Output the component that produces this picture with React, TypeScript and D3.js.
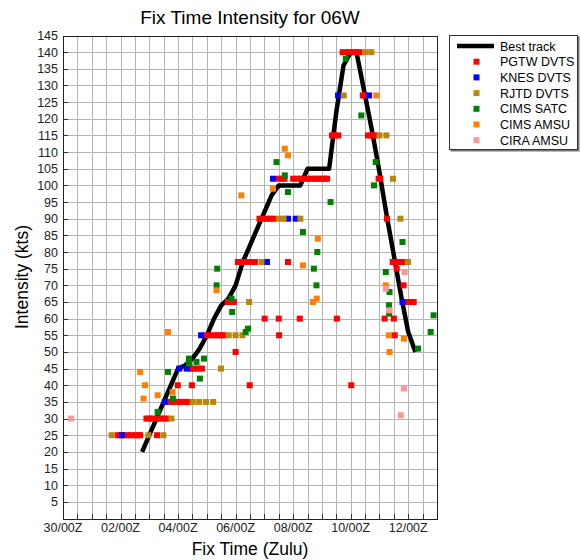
import { useEffect, useRef } from 'react';
import * as d3 from 'd3';

// time is in days after 30/00Z
const xTickDays = [0, 2, 4, 6, 8, 10, 12];
const xTickLabels = ['30/00Z', '02/00Z', '04/00Z', '06/00Z', '08/00Z', '10/00Z', '12/00Z'];
const yTicks = [5, 10, 15, 20, 25, 30, 35, 40, 45, 50, 55, 60, 65, 70, 75, 80, 85, 90, 95, 100, 105, 110, 115, 120, 125, 130, 135, 140, 145];

const trackDay = [2.75, 3, 3.25, 3.5, 3.75, 4, 4.25, 4.5, 4.75, 5, 5.25, 5.5, 5.75, 6, 6.25, 6.5, 6.75, 7, 7.25, 7.5, 7.75, 8, 8.25, 8.5, 8.75, 9, 9.25, 9.5, 9.75, 10, 10.2, 10.5, 10.75, 11, 11.25, 11.5, 11.75, 12, 12.25];
const trackKts = [20, 25, 30, 35, 40, 45, 46, 48, 51, 55, 60, 64, 66, 70, 77, 82, 87, 92, 97, 100, 100, 100, 100, 105, 105, 105, 105, 122, 136, 140, 140, 127, 116, 104, 91, 79, 67, 56, 50];

const pgtw: [number, number][] = [
  [1.9, 25], [2.0, 25], [2.125, 25], [2.25, 25], [2.375, 25], [2.5, 25], [2.625, 25], [2.68, 25], [3.27, 25],
  [2.9, 30], [3.0, 30], [3.125, 30], [3.25, 30], [3.375, 30], [3.5, 30], [3.6, 30],
  [3.72, 35], [3.85, 35], [4.0, 35], [4.125, 35], [4.25, 35], [4.31, 35],
  [3.99, 40], [4.48, 40], [6.49, 40], [10.02, 40],
  [4.44, 45], [4.55, 45], [4.7, 45], [4.83, 45],
  [6.0, 50],
  [4.97, 55], [5.1, 55], [5.25, 55], [5.375, 55], [5.5, 55], [5.59, 55], [7.51, 55], [11.53, 55],
  [7.01, 60], [7.5, 60], [8.23, 60], [9.52, 60], [11.18, 60], [11.5, 60],
  [5.73, 65], [5.85, 65], [5.94, 65], [11.98, 65], [12.1, 65], [12.19, 65],
  [11.84, 70], [11.6, 75],
  [6.08, 77], [6.2, 77], [6.33, 77], [6.45, 77], [6.58, 77], [6.67, 77], [7.82, 77],
  [11.46, 77], [11.6, 77], [11.72, 77], [11.83, 77],
  [6.83, 90], [6.95, 90], [7.08, 90], [7.2, 90], [7.33, 90], [11.26, 90],
  [7.5, 102], [7.6, 102], [7.7, 102], [8.0, 102], [8.125, 102], [8.25, 102], [8.375, 102], [8.5, 102],
  [8.625, 102], [8.75, 102], [8.875, 102], [9.0, 102], [9.125, 102], [9.18, 102], [10.97, 102], [11.03, 102],
  [9.35, 115], [9.46, 115], [9.57, 115], [10.6, 115], [10.72, 115], [10.84, 115],
  [10.42, 127], [10.5, 127],
  [9.72, 140], [9.85, 140], [9.97, 140], [10.1, 140], [10.22, 140], [10.31, 140],
];

const knes: [number, number][] = [
  [2.05, 25], [3.54, 35], [4.04, 45], [4.3, 45], [4.8, 55], [7.09, 77], [7.82, 90], [8.09, 90],
  [7.3, 102], [9.56, 127], [10.64, 127], [11.8, 65],
];

const rjtd: [number, number][] = [
  [1.69, 25], [2.97, 25], [3.49, 25], [3.77, 30], [4.51, 35], [4.73, 35], [4.97, 35], [5.22, 35],
  [5.49, 45], [5.76, 55], [6.0, 55], [6.24, 55], [6.47, 65], [6.9, 77], [7.51, 90], [7.67, 90],
  [8.25, 90], [9.76, 127], [10.52, 140], [10.72, 140], [11.0, 115], [11.24, 115], [11.47, 102],
  [11.73, 90], [11.99, 77],
];

const cimsSatc: [number, number][] = [
  [3.29, 32], [3.65, 44], [3.82, 36], [4.38, 48], [4.38, 46.5], [4.64, 47], [4.9, 48], [4.76, 42],
  [6.35, 56], [6.43, 57], [5.86, 66], [5.88, 62], [5.34, 70], [5.36, 75], [7.42, 107], [7.71, 103],
  [7.82, 98], [9.3, 95], [8.34, 86], [8.84, 80], [8.72, 75], [8.81, 70], [9.83, 138], [10.37, 121],
  [10.87, 107], [10.81, 100], [11.8, 83], [11.22, 74], [11.35, 68], [11.33, 64], [11.34, 61.5],
  [12.88, 61], [12.78, 56], [12.34, 51],
];

const cimsAmsu: [number, number][] = [
  [2.68, 44], [2.85, 40], [2.8, 36], [3.29, 37], [3.81, 38], [3.65, 56], [5.34, 68.5], [6.2, 97],
  [7.3, 99], [7.71, 111], [7.82, 109], [8.34, 76], [8.86, 84], [8.82, 66], [8.69, 65], [10.89, 127],
  [11.22, 70], [11.33, 55], [11.85, 54], [11.35, 50],
];

const ciraAmsu: [number, number][] = [
  [0.28, 30], [11.88, 74], [11.22, 69], [11.35, 62.5], [11.85, 39], [11.74, 31],
];

const seriesNames = ['PGTW DVTS', 'KNES DVTS', 'RJTD DVTS', 'CIMS SATC', 'CIMS AMSU', 'CIRA AMSU'];
const seriesColors = ['#ff0000', '#0000ff', '#b8860b', '#008000', '#ff8000', '#ff9696'];
const seriesData = [pgtw, knes, rjtd, cimsSatc, cimsAmsu, ciraAmsu];

const FONT = '"Liberation Sans", Arial, Helvetica, sans-serif';

export default function App() {
  const svgRef = useRef<SVGSVGElement>(null);

  useEffect(() => {
    if (!svgRef.current) return;
    const svg = d3.select(svgRef.current);
    svg.selectAll('*').remove();

    const x = d3.scaleLinear().domain([0, 13]).range([63, 437]);
    const y = d3.scaleLinear().domain([0, 145]).range([518.5, 35.5]);
    const [x0, x1] = x.range();
    const [y0, y1] = y.range();

    // grid
    const grid = svg.append('g').attr('shape-rendering', 'crispEdges');
    grid.selectAll('line.v')
      .data(d3.range(0.5, 13, 0.5))
      .join('line')
      .attr('x1', d => Math.round(x(d)) + 0.5).attr('x2', d => Math.round(x(d)) + 0.5)
      .attr('y1', y1).attr('y2', y0)
      .attr('stroke', '#b4b4b4');
    grid.selectAll('line.h')
      .data(yTicks)
      .join('line')
      .attr('x1', x0).attr('x2', x1)
      .attr('y1', d => Math.round(y(d)) + 0.5).attr('y2', d => Math.round(y(d)) + 0.5)
      .attr('stroke', '#b4b4b4');

    // tick marks
    const ticks = svg.append('g').attr('shape-rendering', 'crispEdges').attr('stroke', '#333');
    ticks.selectAll('line.xt')
      .data(d3.range(0, 13.01, 0.5))
      .join('line')
      .attr('x1', d => Math.round(x(d)) + 0.5).attr('x2', d => Math.round(x(d)) + 0.5)
      .attr('y1', y0).attr('y2', y0 - 5);
    ticks.selectAll('line.yt')
      .data(yTicks)
      .join('line')
      .attr('x1', x0).attr('x2', x0 + 5)
      .attr('y1', d => Math.round(y(d)) + 0.5).attr('y2', d => Math.round(y(d)) + 0.5);

    // frame
    svg.append('rect')
      .attr('x', x0 + 0.5).attr('y', y1 + 0.5)
      .attr('width', x1 - x0).attr('height', y0 - y1)
      .attr('fill', 'none').attr('stroke', '#222')
      .attr('shape-rendering', 'crispEdges');

    // tick labels
    svg.append('g').selectAll('text')
      .data(yTicks)
      .join('text')
      .attr('x', x0 - 5).attr('y', d => y(d) + 4.5)
      .attr('text-anchor', 'end')
      .attr('font-family', FONT).attr('font-size', 12.5)
      .attr('fill', '#222')
      .text(d => d);
    svg.append('g').selectAll('text')
      .data(xTickDays)
      .join('text')
      .attr('x', d => x(d)).attr('y', 532)
      .attr('text-anchor', 'middle')
      .attr('font-family', FONT).attr('font-size', 12.5)
      .attr('fill', '#222')
      .text((d, i) => xTickLabels[i]);

    // titles
    svg.append('text')
      .attr('x', (x0 + x1) / 2).attr('y', 24)
      .attr('text-anchor', 'middle')
      .attr('font-family', FONT).attr('font-size', 19)
      .text('Fix Time Intensity for 06W');
    svg.append('text')
      .attr('x', (x0 + x1) / 2).attr('y', 555)
      .attr('text-anchor', 'middle')
      .attr('font-family', FONT).attr('font-size', 17.5)
      .text('Fix Time (Zulu)');
    svg.append('text')
      .attr('transform', `translate(28,${(y0 + y1) / 2}) rotate(-90)`)
      .attr('text-anchor', 'middle')
      .attr('font-family', FONT).attr('font-size', 17.5)
      .text('Intensity (kts)');

    // best track
    const line = d3.line<number>()
      .x(d => x(trackDay[d]))
      .y(d => y(trackKts[d]));
    svg.append('path')
      .attr('d', line(d3.range(trackDay.length)))
      .attr('fill', 'none')
      .attr('stroke', '#000')
      .attr('stroke-width', 4.5)
      .attr('stroke-linejoin', 'round');

    // fixes
    seriesData.forEach((data, i) => {
      svg.append('g').selectAll('rect')
        .data(data)
        .join('rect')
        .attr('x', d => x(d[0]) - 3)
        .attr('y', d => y(d[1]) - 3)
        .attr('width', 6).attr('height', 6)
        .attr('fill', seriesColors[i]);
    });

    // legend
    const lg = svg.append('g').attr('transform', 'translate(449,35)');
    lg.append('rect')
      .attr('x', 1.5).attr('y', 1.5).attr('width', 129).attr('height', 115)
      .attr('fill', '#777');
    lg.append('rect')
      .attr('x', 0.5).attr('y', 0.5).attr('width', 128).attr('height', 114)
      .attr('fill', '#fff').attr('stroke', '#333')
      .attr('shape-rendering', 'crispEdges');
    lg.append('line')
      .attr('x1', 8).attr('x2', 45).attr('y1', 11).attr('y2', 11)
      .attr('stroke', '#000').attr('stroke-width', 4.5);
    lg.append('text')
      .attr('x', 51).attr('y', 15.5)
      .attr('font-family', FONT).attr('font-size', 12.5)
      .text('Best track');
    seriesNames.forEach((name, i) => {
      const yy = 11 + (i + 1) * 15.7;
      lg.append('rect')
        .attr('x', 24.5).attr('y', yy - 3).attr('width', 6).attr('height', 6)
        .attr('fill', seriesColors[i]);
      lg.append('text')
        .attr('x', 51).attr('y', yy + 4.5)
        .attr('font-family', FONT).attr('font-size', 12.5)
        .text(name);
    });
  }, []);

  return (
    <svg
      ref={svgRef}
      width={581}
      height={560}
      style={{ position: 'fixed', left: 0, top: 0, background: '#fff' }}
    />
  );
}
